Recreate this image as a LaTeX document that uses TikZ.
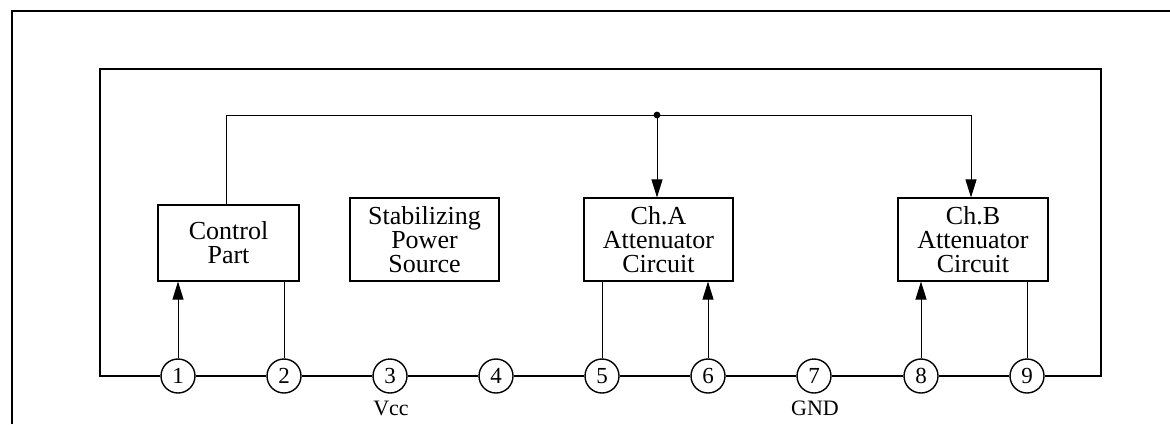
\documentclass[tikz,border=0pt]{standalone}
\usepackage{fontspec}
\setmainfont{Liberation Serif}
\usetikzlibrary{arrows.meta}
\begin{document}
\begin{tikzpicture}[x=1pt,y=-1pt,
  pin/.style={circle,draw,line width=1.4pt,minimum size=34pt,inner sep=0pt,font=\fontsize{23}{23}\selectfont},
  block/.style={draw,line width=1.1pt,align=center,inner sep=0pt,font=\fontsize{26}{24}\selectfont},
  bus/.style={line width=1.9pt},
  wire/.style={line width=0.9pt},
  arr/.style={wire,-{Triangle[length=18pt,width=11pt]}},
  lbl/.style={font=\fontsize{22}{22}\selectfont,inner sep=0pt}
]
\useasboundingbox (0,0) rectangle (1170,424);
% outer frame
\draw[line width=1.2pt] (12,424) -- (12,11) -- (1170,11);
% pins
\foreach \i/\x in {1/178,2/284,3/390,4/496,5/602,6/708,7/814,8/921,9/1027}
  \node[pin] (p\i) at (\x,376) {\i};
% blocks
\node[block,minimum width=141pt,minimum height=76pt] (ctrl) at (228.5,243) {Control\\Part};
\node[block,minimum width=149pt,minimum height=83pt] (stab) at (424.5,239.5) {Stabilizing\\Power\\Source};
\node[block,minimum width=149pt,minimum height=83pt] (cha) at (658.5,239.5) {Ch.A\\Attenuator\\Circuit};
\node[block,minimum width=150pt,minimum height=83pt] (chb) at (973,239.5) {Ch.B\\Attenuator\\Circuit};
% labels
\node[lbl] (vcc) at (391,408) {Vcc};
\node[lbl] (gnd) at (815,408) {GND};
% bus loop
\coordinate (bl) at (100,376);
\coordinate (tl) at (100,69);
\coordinate (tr) at (1101,69);
\coordinate (br) at (1101,376);
\draw[bus] (p1.west) -- (bl) -- (tl) -- (tr) -- (br) -- (p9.east);
\foreach \a/\b in {1/2,2/3,3/4,4/5,5/6,6/7,7/8,8/9}
  \draw[bus] (p\a.east) -- (p\b.west);
% control wire
\coordinate (j) at (657,115);
\coordinate (cn) at (226,115);
\draw[wire] ([xshift=-2.5pt]ctrl.north) -- (cn) -- (j);
\draw[arr] (j) -- (j |- cha.north);
\draw[arr] (j) -| ([xshift=-2pt]chb.north);
\fill (j) circle (3.4pt);
% pin connections
\draw[arr] (p1.north) -- (p1 |- ctrl.south);
\draw[wire] (p2.north) -- (p2 |- ctrl.south);
\draw[wire] (p5.north) -- (p5 |- cha.south);
\draw[arr] (p6.north) -- (p6 |- cha.south);
\draw[arr] (p8.north) -- (p8 |- chb.south);
\draw[wire] (p9.north) -- (p9 |- chb.south);
\end{tikzpicture}
\end{document}
